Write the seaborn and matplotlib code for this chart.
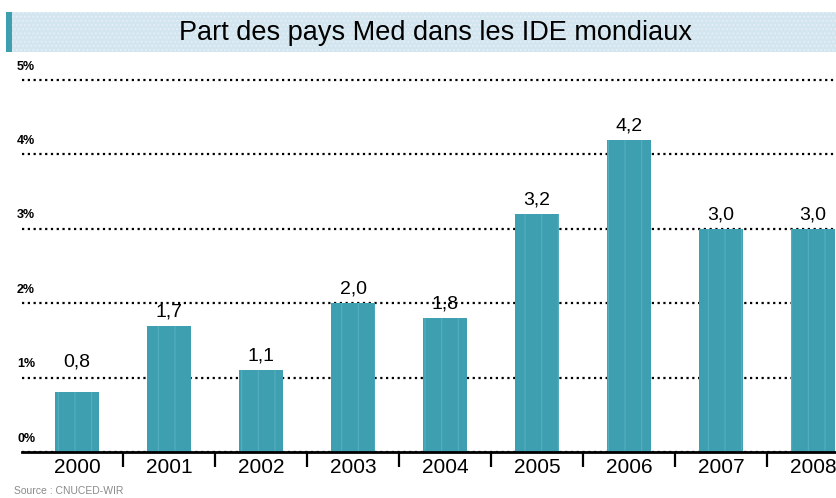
import matplotlib
matplotlib.use("Agg")
import matplotlib.pyplot as plt
import seaborn as sns
import pandas as pd
from matplotlib.patches import Rectangle

# --- data ---
years = ["2000", "2001", "2002", "2003", "2004", "2005", "2006", "2007", "2008"]
shares = [0.8, 1.7, 1.1, 2.0, 1.8, 3.2, 4.2, 3.0, 3.0]
y_ticks = [0, 1, 2, 3, 4, 5]
y_tick_labels = ["0%", "1%", "2%", "3%", "4%", "5%"]

title = "Part des pays Med dans les IDE mondiaux"
source = "Source : CNUCED-WIR"

BAR = "#3d9fb0"
BAND = "#d3e5ef"

sns.set_theme(style="white")
plt.rcParams["font.family"] = ["Liberation Sans", "DejaVu Sans"]
plt.rcParams["hatch.linewidth"] = 0.8

df = pd.DataFrame({"year": years, "share": shares})

W, H = 836, 498
fig = plt.figure(figsize=(W / 100, H / 100), dpi=100)
fig.patch.set_facecolor("white")

# axes placed in pixel terms
left, right = 22, 836
bottom_px = 452
px_per_unit = 74.4
ymax = 5.05
ax = fig.add_axes([left / W, 1 - bottom_px / H, (right - left) / W, ymax * px_per_unit / H])

sns.barplot(data=df, x="year", y="share", color=BAR, width=0.48,
            saturation=1, ax=ax, zorder=3)
# faint vertical streaks inside the bars, like the print texture
for bar in ax.patches:
    bar.set_hatch("|")
    bar.set_edgecolor("#55afbf")
    bar.set_linewidth(0)

ax.set_xlim(-0.6, 8.25)
ax.set_ylim(0, ymax)

# dotted grid lines
ax.set_yticks(y_ticks)
ax.set_yticklabels([])
ax.tick_params(axis="y", length=0)
ax.yaxis.grid(True, color="black", linestyle=(0, (1, 1.6)), linewidth=1.6, zorder=1)
ax.set_axisbelow(True)

for s in ["top", "right", "left"]:
    ax.spines[s].set_visible(False)
ax.spines["bottom"].set_color("black")
ax.spines["bottom"].set_linewidth(2)
ax.spines["bottom"].set_zorder(4)

# year labels and separator ticks
ax.set_xlabel("")
ax.set_ylabel("")
ax.tick_params(axis="x", which="major", length=0, pad=4, labelsize=15, colors="black")
ax.set_xticks([i + 0.5 for i in range(len(years) - 1)], minor=True)
ax.tick_params(axis="x", which="minor", bottom=True, length=11, width=1.6,
               direction="out", color="black")

# y labels sitting above each grid line
ytr = ax.get_yaxis_transform()
for v, lab in zip(y_ticks, y_tick_labels):
    ax.text(-0.006, v + 0.1, lab, transform=ytr, ha="left", va="bottom",
            fontsize=9, fontweight="bold", color="black", clip_on=False)

# value labels (the 0,8 label sits above the 1% line in the original)
for i, v in enumerate(shares):
    base = v + 0.07
    if i == 0:
        base = 1.1
    ax.text(i, base, f"{v:.1f}".replace(".", ","), ha="center", va="bottom",
            fontsize=14, color="black", zorder=5)

# title band
fig.patches.append(Rectangle((12 / W, 1 - 52 / H), (W - 12) / W, 40 / H,
                             transform=fig.transFigure, facecolor=BAND,
                             edgecolor="#e6f0f6", linewidth=0, hatch="....",
                             zorder=0))
fig.patches.append(Rectangle((6 / W, 1 - 52 / H), 6 / W, 40 / H,
                             transform=fig.transFigure, facecolor=BAR,
                             edgecolor="none", zorder=0))
fig.text(436 / W, 1 - 33 / H, title, ha="center", va="center",
         fontsize=19.5, color="black")

fig.text(14 / W, 1 - 491 / H, source, ha="left", va="center",
         fontsize=7.5, color="#8a8a8a")

fig.savefig("out.png", dpi=100, facecolor=fig.get_facecolor())
